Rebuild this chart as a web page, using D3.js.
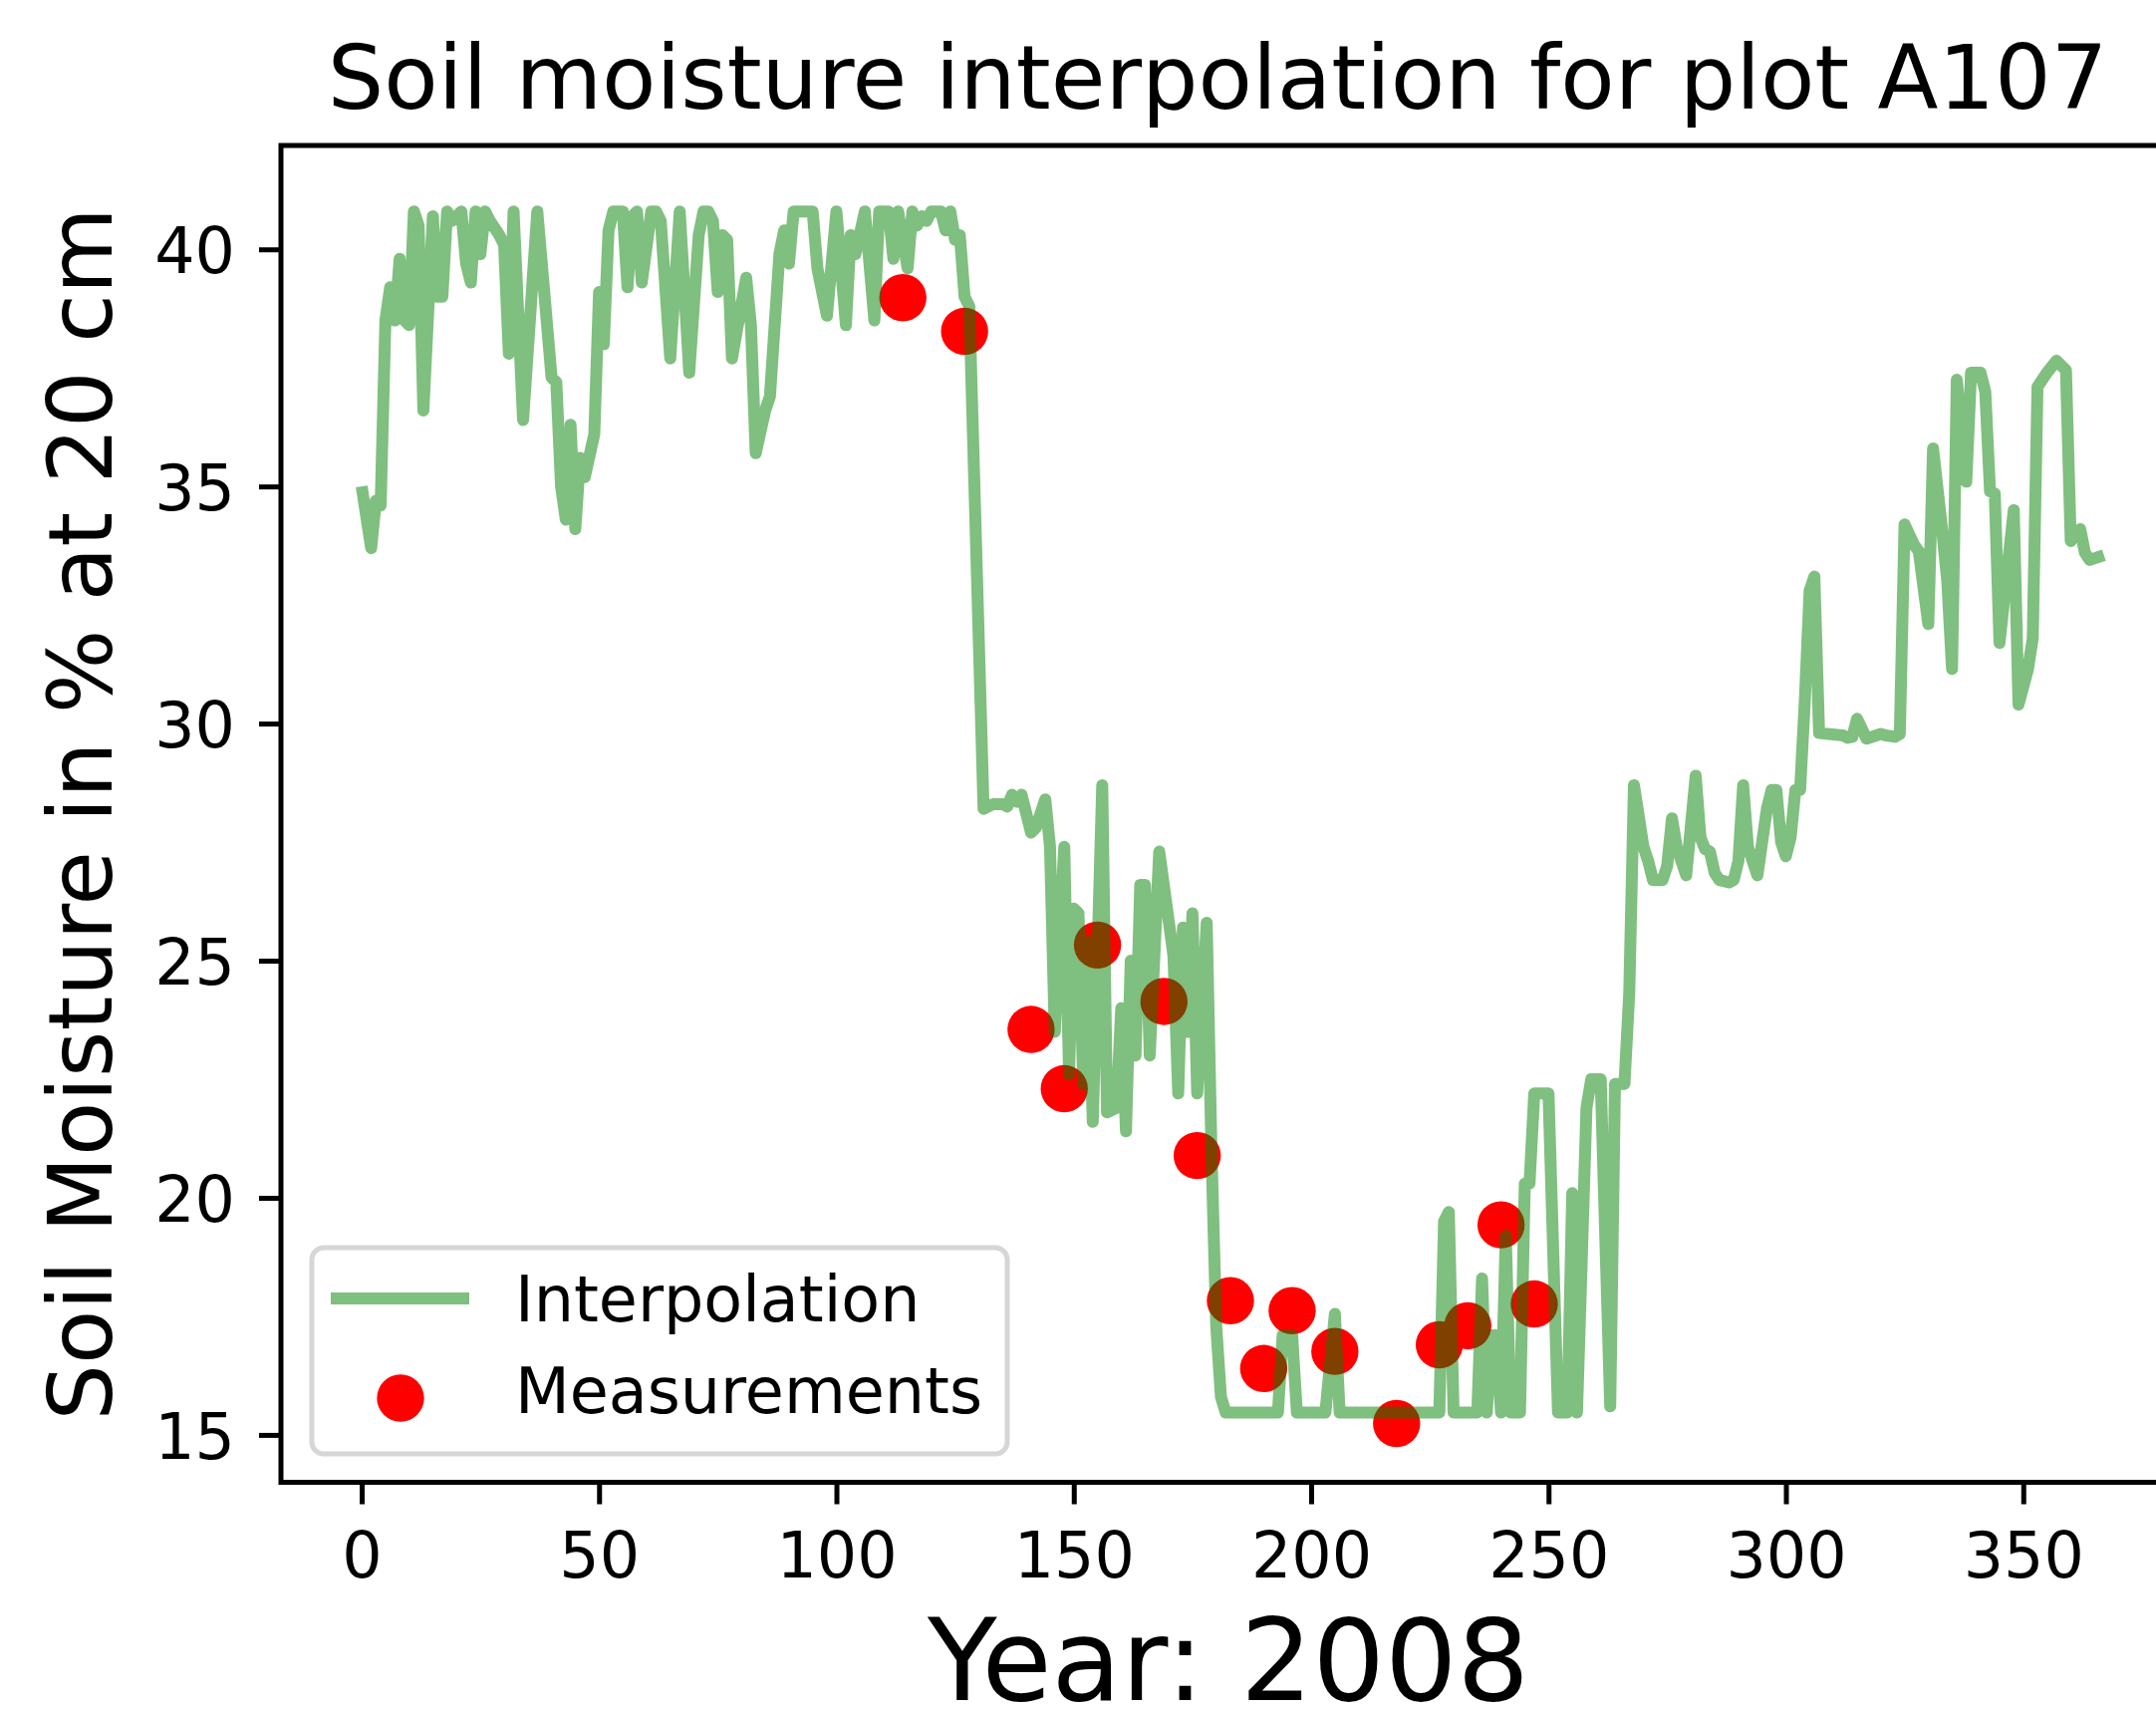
<!DOCTYPE html>
<html>
<head>
<meta charset="utf-8">
<script src="https://cdn.jsdelivr.net/npm/d3@7"></script>
<style>
  html, body { margin: 0; padding: 0; background: #ffffff; }
  svg { display: block; }
</style>
</head>
<body>
<script>
// ---------- data ----------
const lineDays = [
  0,2,3,4,5,6,7,8,9,10,11,12,13,15,16,17,18,19,21,22,23,24,25,26,27,29,30,31,32,34,37,40,41,42,43,44,45,46,47,49,
  50,51,52,53,55,56,57,58,59,61,62,63,65,67,69,71,72,73,74,75,76,77,78,81,82,83,85,86,88,89,90,91,95,96,98,
  100,102,103,104,106,108,109,111,112,113,115,116,117,118,119,120,122,123,124,125,126,127,128,131,
  133,135,136,137,138,139,141,142,144,145,146,148,149,150,151,152,153,154,156,157,159,160,161,162,163,164,165,166,168,
  171,172,173,174,175,176,178,179,180,181,182,193,194,196,197,203,205,206,227,228,229,230,235,236,237,238,239,240,241,242,244,
  245,246,247,250,252,254,255,256,258,259,261,263,264,266,267,268,270,271,272,274,275,276,277,279,281,282,283,284,285,286,288,289,
  290,291,292,294,296,297,298,299,300,301,302,303,304,305,306,307,312,313,314,315,317,320,321,323,324,325,327,328,330,331,333,334,
  335,336,338,339,341,342,343,344,345,348,349,351,352,353,355,357,359,360,362,363,364,367
];
const lineValues = [
  35.0,33.7,34.7,34.6,38.5,39.2,38.5,39.8,38.5,38.4,40.8,40.5,36.6,40.7,39.0,39.0,40.8,40.6,40.8,39.7,39.3,40.8,39.9,40.8,40.6,40.3,40.1,37.8,40.8,36.4,40.8,37.3,37.2,35.0,34.3,36.3,34.1,35.6,35.2,36.1,
  39.1,38.0,40.4,40.8,40.8,39.2,40.7,40.8,39.3,40.8,40.8,40.6,37.7,40.8,37.4,40.3,40.8,40.8,40.6,39.1,40.3,40.2,37.7,39.4,38.4,35.7,36.6,36.9,39.9,40.4,39.7,40.8,40.8,39.6,38.6,
  40.8,38.4,40.3,39.9,40.8,38.5,40.8,40.8,39.8,40.8,39.6,40.8,40.5,40.7,40.6,40.8,40.8,40.4,40.8,40.2,40.3,39.0,38.8,28.2,
  28.3,28.3,28.25,28.5,28.35,28.5,27.7,27.8,28.4,27.4,23.5,27.4,22.6,26.1,26.0,22.4,25.4,21.6,28.7,21.8,21.9,24.0,21.4,25.0,23.0,26.6,26.6,23.0,27.3,
  25.1,22.2,25.7,23.5,26.0,22.2,25.8,21.0,17.3,15.8,15.47,15.47,17.1,17.1,15.47,15.47,17.55,15.47,15.47,19.5,19.7,15.47,15.47,18.3,15.47,17.1,17.1,15.47,19.2,15.47,15.47,
  20.3,20.3,22.2,22.2,15.47,15.47,20.1,15.47,21.9,22.5,22.5,15.6,22.4,22.4,24.3,28.7,27.4,27.1,26.7,26.7,27.0,28.0,27.4,26.8,28.9,27.6,27.35,27.3,26.85,26.7,26.65,26.7,
  27.1,28.7,27.4,26.8,28.2,28.6,28.6,27.5,27.2,27.6,28.6,28.6,30.5,32.8,33.1,29.8,29.75,29.7,29.72,30.1,29.68,29.78,29.75,29.72,29.78,34.2,33.77,33.63,32.1,35.8,34.0,33.0,
  31.15,37.25,35.1,37.4,37.4,37.0,34.9,34.85,31.7,34.5,30.4,31.15,31.8,37.1,37.4,37.65,37.45,33.85,34.1,33.6,33.45,33.55
];
const measDays   = [114, 127, 141, 148, 155, 169, 176, 183, 190, 196, 205, 218, 227, 233, 240, 247];
const measValues = [38.98, 38.27, 23.55, 22.3, 25.33, 24.14, 20.89, 17.83, 16.4, 17.62, 16.76, 15.24, 16.9, 17.3, 19.43, 17.76];
const xTicks = [0, 50, 100, 150, 200, 250, 300, 350];
const yTicks = [15, 20, 25, 30, 35, 40];
const titleText = "Soil moisture interpolation for plot A107";
const xLabelText = "Year: 2008";
const yLabelText = "Soil Moisture in % at 20 cm";
const legendLabels = ["Interpolation", "Measurements"];

(function () {
  // ---------- layout ----------
  const W = 2164, H = 1718;
  const pLeft = 282, pTop = 146, pBottom = 1487.5;
  const pxPerDay = 4.765;
  const pRight = pLeft + (384 + 17) * pxPerDay;
  const FONT = "DejaVu Sans";
  const tickFont = 63.5, titleFont = 89, xLabelFont = 114, legendFont = 63.5;

  const svg = d3.select("body").append("svg").attr("width", W).attr("height", H);
  svg.append("rect").attr("width", W).attr("height", H).attr("fill", "#ffffff");

  const x = d3.scaleLinear().domain([-17, 384]).range([pLeft, pRight]);
  const y = d3.scaleLinear().domain([14, 42.19]).range([pBottom, pTop]);

  svg.append("defs").append("clipPath").attr("id", "plotclip")
    .append("rect").attr("x", pLeft).attr("y", pTop).attr("width", pRight - pLeft).attr("height", pBottom - pTop);

  const plot = svg.append("g").attr("clip-path", "url(#plotclip)");

  // measurements (below the line)
  plot.selectAll("circle.meas")
    .data(measDays.map((d, i) => [d, measValues[i]]))
    .join("circle")
    .attr("class", "meas")
    .attr("cx", d => x(d[0]))
    .attr("cy", d => y(d[1]))
    .attr("r", 23.7)
    .attr("fill", "#ff0000");

  // interpolation line
  const lineData = lineDays.map((d, i) => [d, lineValues[i]]);
  plot.append("path")
    .datum(lineData)
    .attr("d", d3.line().x(d => x(d[0])).y(d => y(d[1])))
    .attr("fill", "none")
    .attr("stroke", "#008000")
    .attr("stroke-opacity", 0.5)
    .attr("stroke-width", 12)
    .attr("stroke-linejoin", "round")
    .attr("stroke-linecap", "butt");

  // axes
  const gx = svg.append("g").attr("transform", `translate(0,${pBottom})`)
    .call(d3.axisBottom(x).tickValues(xTicks).tickSize(22).tickSizeOuter(0).tickFormat(d3.format("d")));
  gx.select(".domain").remove();
  gx.selectAll(".tick line").attr("stroke", "#000").attr("stroke-width", 5);
  gx.selectAll(".tick text").attr("y", 95).attr("dy", null)
    .attr("font-size", tickFont).attr("font-family", FONT).attr("fill", "#000");

  const gy = svg.append("g").attr("transform", `translate(${pLeft},0)`)
    .call(d3.axisLeft(y).tickValues(yTicks).tickSize(22).tickSizeOuter(0).tickFormat(d3.format("d")));
  gy.select(".domain").remove();
  gy.selectAll(".tick line").attr("stroke", "#000").attr("stroke-width", 5);
  gy.selectAll(".tick text").attr("x", -46).attr("dy", "0.365em")
    .attr("font-size", tickFont).attr("font-family", FONT).attr("fill", "#000");

  // frame (spines)
  svg.append("rect")
    .attr("x", pLeft).attr("y", pTop).attr("width", pRight - pLeft).attr("height", pBottom - pTop)
    .attr("fill", "none").attr("stroke", "#000").attr("stroke-width", 5);

  // title and labels
  svg.append("text").attr("x", 1222).attr("y", 108.5).attr("text-anchor", "middle")
    .attr("font-family", FONT).attr("font-size", titleFont).attr("fill", "#000").text(titleText);
  svg.append("text").attr("x", 1233).attr("y", 1706).attr("text-anchor", "middle")
    .attr("font-family", FONT).attr("font-size", xLabelFont).attr("fill", "#000").text(xLabelText);
  svg.append("text").attr("transform", "translate(112,817) rotate(-90)").attr("text-anchor", "middle")
    .attr("font-family", FONT).attr("font-size", titleFont).attr("fill", "#000").text(yLabelText);

  // legend
  const lg = svg.append("g");
  lg.append("rect").attr("x", 313).attr("y", 1252).attr("width", 698).attr("height", 207).attr("rx", 12)
    .attr("fill", "#ffffff").attr("fill-opacity", 0.8).attr("stroke", "#d6d6d6").attr("stroke-width", 5);
  lg.append("line").attr("x1", 332).attr("x2", 471).attr("y1", 1303).attr("y2", 1303)
    .attr("stroke", "#008000").attr("stroke-opacity", 0.5).attr("stroke-width", 12);
  lg.append("circle").attr("cx", 402).attr("cy", 1403).attr("r", 23.7).attr("fill", "#ff0000");
  lg.append("text").attr("x", 517).attr("y", 1326).attr("font-family", FONT).attr("font-size", legendFont)
    .attr("fill", "#000").text(legendLabels[0]);
  lg.append("text").attr("x", 517).attr("y", 1418).attr("font-family", FONT).attr("font-size", legendFont)
    .attr("fill", "#000").text(legendLabels[1]);
})();
</script>
</body>
</html>
